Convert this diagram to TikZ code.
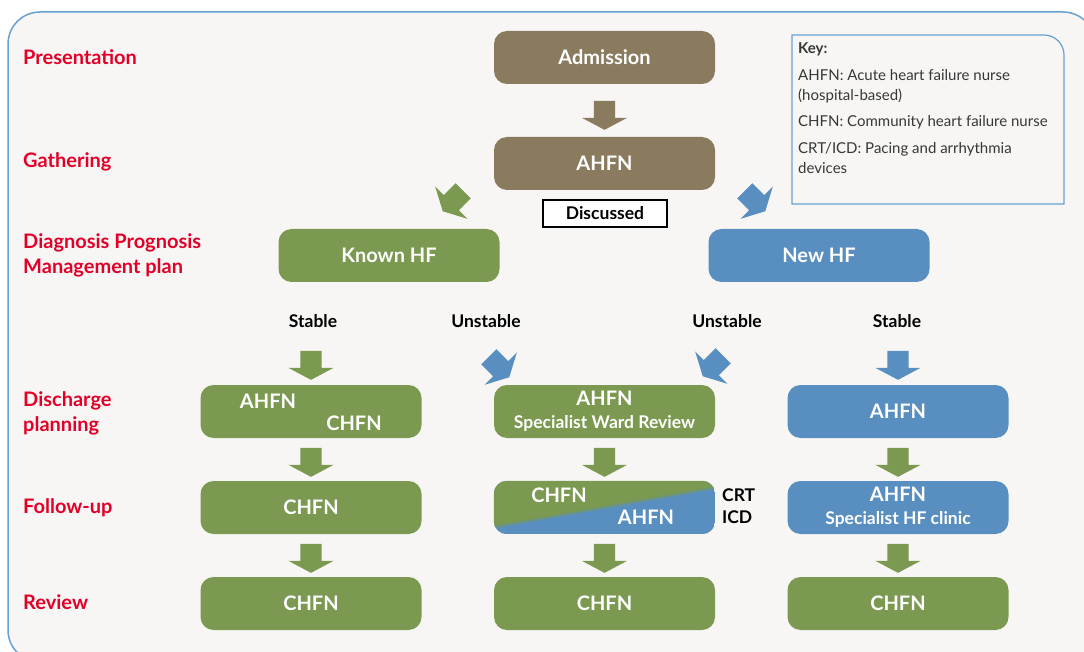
\documentclass[tikz,border=0pt]{standalone}
\usepackage{fontspec}
\setmainfont{Lato}
\usetikzlibrary{shapes.arrows,calc}

\definecolor{hfbrown}{RGB}{139,123,94}
\definecolor{hfgreen}{RGB}{123,153,80}
\definecolor{hfblue}{RGB}{89,143,192}
\definecolor{hfred}{RGB}{226,0,40}
\definecolor{hfframe}{RGB}{105,160,210}
\definecolor{hfpaper}{RGB}{247,246,244}
\definecolor{hfkey}{RGB}{55,55,55}

\begin{document}
\begin{tikzpicture}[x=1pt, y=-1pt, node distance=96pt,
  box/.style={rectangle, rounded corners=13pt, minimum width=221pt, minimum height=53pt, inner sep=0pt, text=white, font=\bfseries\fontsize{20}{23}\selectfont, align=center},
  boxtext/.style={text=white, inner sep=0pt, font=\bfseries\fontsize{20}{23}\selectfont},
  stage/.style={anchor=west, text=hfred, inner sep=0pt, font=\bfseries\fontsize{20}{25}\selectfont, align=left},
  branch/.style={inner sep=0pt, font=\bfseries\fontsize{17.5}{19}\selectfont},
  blockarrow/.style={single arrow, minimum height=29pt, minimum width=45pt, single arrow head extend=12pt, single arrow tip angle=124, inner xsep=0pt, inner ysep=10.5pt}]

\useasboundingbox (0,0) rectangle (1084,652);
\fill[white] (0,0) rectangle (1084,652);
\draw[hfframe, line width=1.5pt, fill=hfpaper, rounded corners=32pt] (8,12) rectangle (1095,662);

% stages down the left side
\node[stage] (presentation) at (23,57.5) {Presentation};
\node[stage] (gathering) at (23,162) {Gathering};
\node[stage] (diagnosis) at (23,255.5) {Diagnosis Prognosis\\Management plan};
\node[stage] (discharge) at (23,413.5) {Discharge\\planning};
\node[stage] (followup) at (23,508) {Follow-up};
\node[stage] (review) at (23,602) {Review};

% key
\draw[hfframe, line width=1.2pt, fill=hfpaper] (792,204) -- (792,35) -- (1044,35) arc[start angle=90, end angle=0, radius=20pt] -- (1064,204) -- cycle;
\node[anchor=north west, inner sep=0pt, text=hfkey, align=left, font=\fontsize{15}{20}\selectfont] (keytext) at (798,42) {\textbf{Key:}\\[7pt]AHFN: Acute heart failure nurse\\(hospital-based)\\[6pt]CHFN: Community heart failure nurse\\[7pt]CRT/ICD: Pacing and arrhythmia\\devices};

% admission and first assessment
\node[box, fill=hfbrown] (admission) at (604.5,57.5) {Admission};
\node[box, fill=hfbrown] (ahfn) at (604.5,163.5) {AHFN};
\node[draw=black, line width=1.2pt, fill=white, minimum width=124pt, minimum height=27pt, inner sep=0pt, font=\bfseries\fontsize{17.5}{19}\selectfont] (discussed) at (605,213.5) {Discussed};
\node[box, fill=hfgreen] (known) at (389,255.5) {Known HF};
\node[box, fill=hfblue] (new) at (819,255.5) {New HF};

\node[branch] (stable1) at (313,321) {Stable};
\node[branch] (unstable1) at (486,321) {Unstable};
\node[branch] (unstable2) at (727,321) {Unstable};
\node[branch] (stable2) at (897,321) {Stable};

% discharge planning
\node[box, fill=hfgreen] (dis1) at (311,411.5) {};
\node[boxtext] (dis1a) at (268,401) {AHFN};
\node[boxtext] (dis1c) at (354,423) {CHFN};
\node[box, fill=hfgreen] (dis2) at (604.5,411.5) {AHFN\\{\fontsize{17.5}{23}\selectfont Specialist Ward Review}};
\node[box, fill=hfblue] (dis3) at (898,411.5) {AHFN};

% follow-up
\node[box, fill=hfgreen, below of=dis1] (fol1) {CHFN};
\node[box, below of=dis2] (fol2) {};
\begin{scope}
  \clip[rounded corners=13pt] (fol2.south west) rectangle (fol2.north east);
  \fill[hfblue] (fol2.south west) rectangle (fol2.north east);
  \fill[hfgreen] (fol2.north west) -- (fol2.north east) -- ($(fol2.north east)+(0,7)$) -- ($(fol2.south west)+(0,-7)$) -- cycle;
  \draw[hfgreen!50!hfblue, line width=3pt, opacity=0.6] ($(fol2.north east)+(0,7)$) -- ($(fol2.south west)+(0,-7)$);
\end{scope}
\node[boxtext] (fol2c) at (559,495) {CHFN};
\node[boxtext] (fol2a) at (646,517) {AHFN};
\node[branch, anchor=west] (crt) at (722,495) {CRT};
\node[branch, anchor=west] (icd) at (722,517) {ICD};
\node[box, fill=hfblue, below of=dis3] (fol3) {AHFN\\{\fontsize{17.5}{23}\selectfont Specialist HF clinic}};

% review
\node[box, fill=hfgreen, below of=fol1] (rev1) {CHFN};
\node[box, fill=hfgreen, below of=fol2] (rev2) {CHFN};
\node[box, fill=hfgreen, below of=fol3] (rev3) {CHFN};

% block arrows
\node[blockarrow, fill=hfbrown, rotate=-90] (a1) at ($(admission.south)!0.5!(ahfn.north)+(0,2)$) {};
\node[blockarrow, fill=hfgreen, rotate=-135] (a2) at (455,199) {};
\node[blockarrow, fill=hfblue, rotate=-45] (a3) at (753,199) {};
\node[blockarrow, fill=hfgreen, rotate=-90] (a4) at (311,362.5) {};
\node[blockarrow, fill=hfblue, rotate=-45] (a5) at (497,365) {};
\node[blockarrow, fill=hfblue, rotate=-135] (a6) at (715,364) {};
\node[blockarrow, fill=hfblue, rotate=-90] (a7) at (898,362.5) {};
\foreach \c in {1,2,3}{
  \node[blockarrow, fill=hfgreen, rotate=-90] (b\c) at ($(dis\c.south)!0.5!(fol\c.north)$) {};
  \node[blockarrow, fill=hfgreen, rotate=-90] (c\c) at ($(fol\c.south)!0.5!(rev\c.north)$) {};
}
\end{tikzpicture}
\end{document}
